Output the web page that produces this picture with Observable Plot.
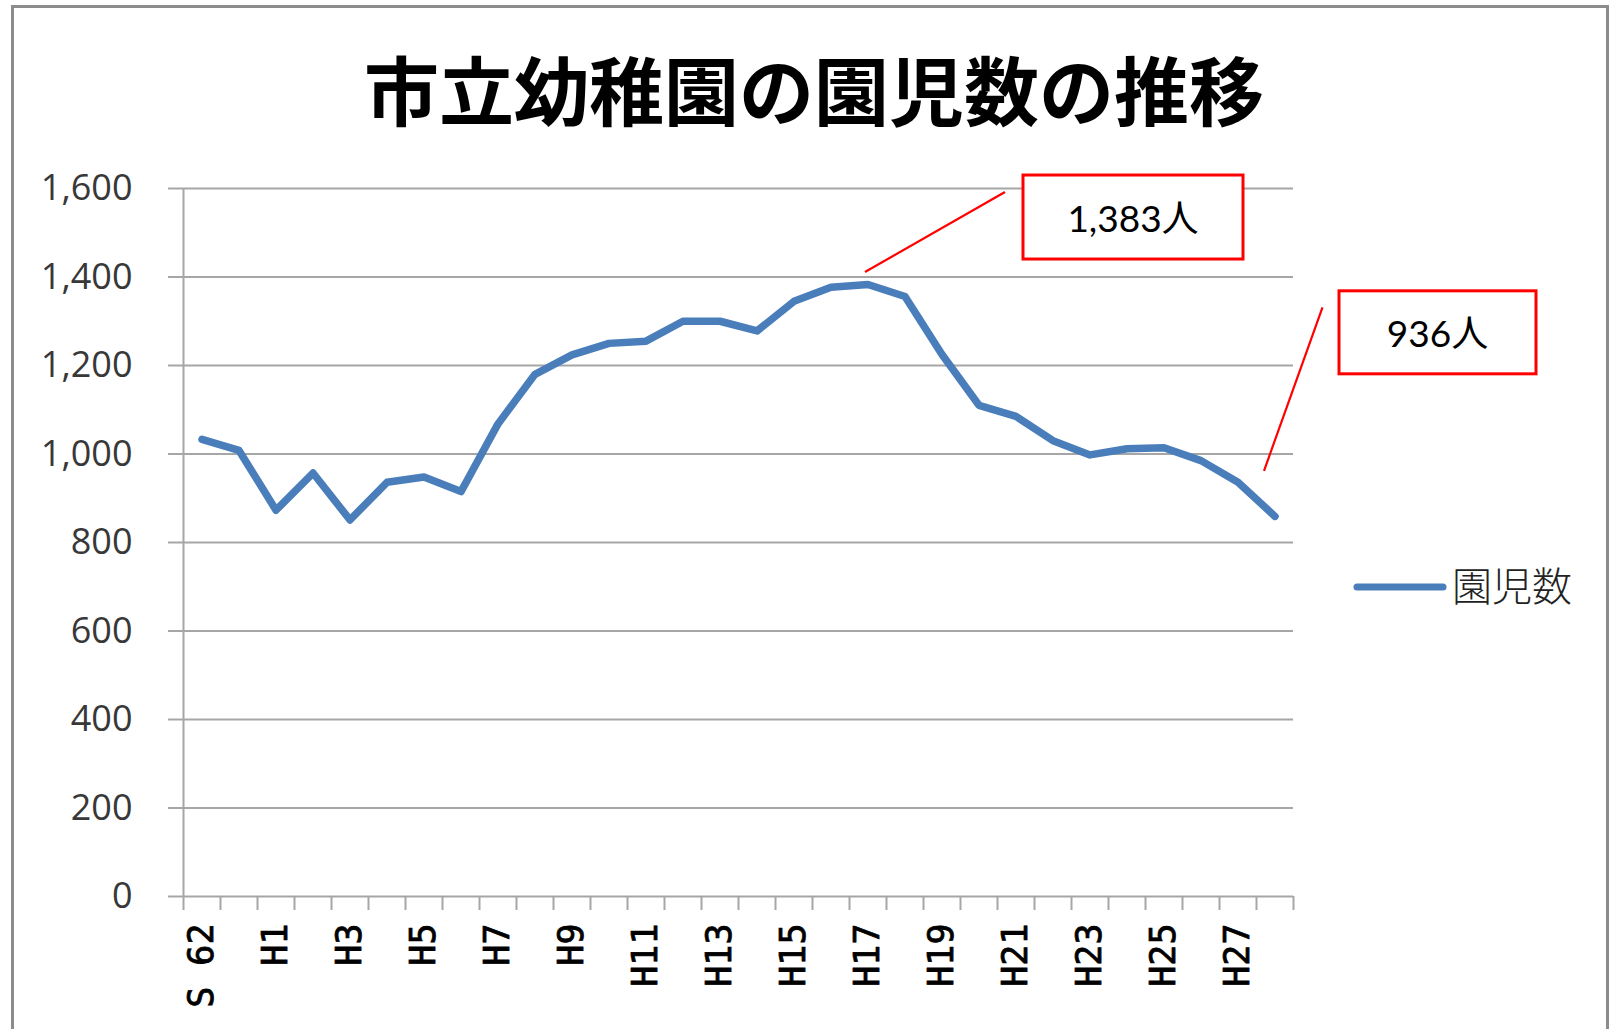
<!DOCTYPE html>
<html>
<head>
<meta charset="utf-8">
<script src="https://cdn.jsdelivr.net/npm/d3@7"></script>
<script src="https://cdn.jsdelivr.net/npm/@observablehq/plot@0.6"></script>
<style>
  html, body { margin: 0; padding: 0; background: #fff; }
  #wrap { position: relative; width: 1622px; height: 1029px; overflow: hidden; background: #fff; }
  #frame { position: absolute; left: 11px; top: 5px; width: 1598px; height: 1100px; border: 3px solid #8c8c8c; box-sizing: border-box; }
  #title { position: absolute; left: 0; top: 40px; width: 1628px; text-align: center;
           font-family: "Noto Sans CJK JP", sans-serif; font-weight: 700; font-size: 75px; line-height: 96px; color: #000; }
  #chart { position: absolute; left: 0; top: 150px; }
</style>
</head>
<body>
<div id="wrap">
  <div id="frame"></div>
  <div id="title">市立幼稚園の園児数の推移</div>
  <div id="chart"></div>
</div>
<script>
// ---- data ----
const categories = ["S 62","S 63","H1","H2","H3","H4","H5","H6","H7","H8","H9","H10",
  "H11","H12","H13","H14","H15","H16","H17","H18","H19","H20","H21","H22","H23","H24",
  "H25","H26","H27","H28"];
const values = [1033,1008,873,957,851,936,948,915,1068,1180,1224,1250,1255,1300,1300,
  1278,1345,1377,1383,1356,1225,1110,1085,1030,998,1012,1014,985,936,859];
const seriesName = "園児数";
const yTicks = [0,200,400,600,800,1000,1200,1400,1600];
const labelIdx = d3.range(0, categories.length, 2);
const calloutIdx = [18, 28];
const calloutText = ["1,383人", "936人"];

// ---- layout (pixel offsets of callouts relative to their data point) ----
const calloutGeom = [
  {lx1: -2.5, ly1: -12, lx2: 137.5, ly2: -92, bx: 155.5, by: -109, bw: 220, bh: 84},
  {lx1: 26.5, ly1: -11, lx2: 85, ly2: -174.5, bx: 101.5, by: -191, bw: 197, bh: 83}
];

const table = categories.map((c, i) => ({i, c, v: values[i]}));
const boundaries = d3.range(-0.5, categories.length, 1);
const grid = "#a6a6a6";
const blue = "#4a7ebb";

const plot = Plot.plot({
  width: 1622,
  height: 879,
  marginTop: 38,
  marginBottom: 133,
  marginLeft: 183,
  marginRight: 329,
  x: {type: "linear", domain: [-0.5, categories.length - 0.5], label: null},
  y: {domain: [0, 1600], label: null},
  style: {background: "transparent", overflow: "visible"},
  marks: [
    Plot.ruleY(yTicks, {stroke: grid, strokeWidth: 2}),
    Plot.ruleX([-0.5], {stroke: grid, strokeWidth: 2}),
    Plot.axisY({ticks: yTicks, tickSize: 15, tickPadding: 36, tickFormat: d3.format(","),
      stroke: grid, strokeWidth: 2, strokeOpacity: 1, label: null}),
    Plot.axisX({ticks: boundaries, tickSize: 14, tickFormat: () => "",
      stroke: grid, strokeWidth: 2, strokeOpacity: 1, label: null}),
    Plot.axisX({ticks: labelIdx, tickSize: 0, tickPadding: 27, tickRotate: -90,
      tickFormat: i => categories[i], label: null}),
    Plot.line(table, {x: "i", y: "v", stroke: blue, strokeWidth: 7.5,
      strokeLinejoin: "round", strokeLinecap: "round"})
  ]
});

document.getElementById("chart").appendChild(plot);

const svg = d3.select(plot);
svg.selectAll('g[aria-label="y-axis tick label"]')
  .style("font-family", "'Open Sans', sans-serif").style("font-size", "36px").attr("fill", "#383838");
svg.selectAll('g[aria-label="x-axis tick label"]')
  .style("font-family", "'DejaVu Sans Mono', monospace").style("font-size", "35px")
  .style("font-weight", 400).attr("fill", "#000")
  .attr("stroke", "#000").attr("stroke-width", 0.8);

const sx = plot.scale("x"), sy = plot.scale("y");

// callouts
calloutIdx.forEach((idx, k) => {
  const g = calloutGeom[k];
  const ax = sx.apply(idx), ay = sy.apply(values[idx]);
  svg.append("line")
    .attr("x1", ax + g.lx1).attr("y1", ay + g.ly1)
    .attr("x2", ax + g.lx2).attr("y2", ay + g.ly2)
    .attr("stroke", "#ff0000").attr("stroke-width", 2.2);
  svg.append("rect")
    .attr("x", ax + g.bx).attr("y", ay + g.by)
    .attr("width", g.bw).attr("height", g.bh)
    .attr("fill", "#fff").attr("stroke", "#ff0000").attr("stroke-width", 3);
  svg.append("text")
    .attr("x", ax + g.bx + g.bw / 2).attr("y", ay + g.by + g.bh / 2)
    .attr("text-anchor", "middle").attr("dominant-baseline", "central")
    .style("font-family", "Lato, 'Noto Sans CJK JP', sans-serif").style("font-size", "37px")
    .attr("fill", "#000").text(calloutText[k]);
});

// legend
const legX = 1357, legY = 437;
svg.append("line").attr("x1", legX).attr("x2", legX + 86).attr("y1", legY).attr("y2", legY)
  .attr("stroke", blue).attr("stroke-width", 7).attr("stroke-linecap", "round");
svg.append("text").attr("x", legX + 95).attr("y", legY - 3)
  .attr("text-anchor", "start").attr("dominant-baseline", "central")
  .style("font-family", "'Noto Sans CJK JP', sans-serif").style("font-weight", 300).style("font-size", "40px")
  .attr("fill", "#222").text(seriesName);
</script>
</body>
</html>
